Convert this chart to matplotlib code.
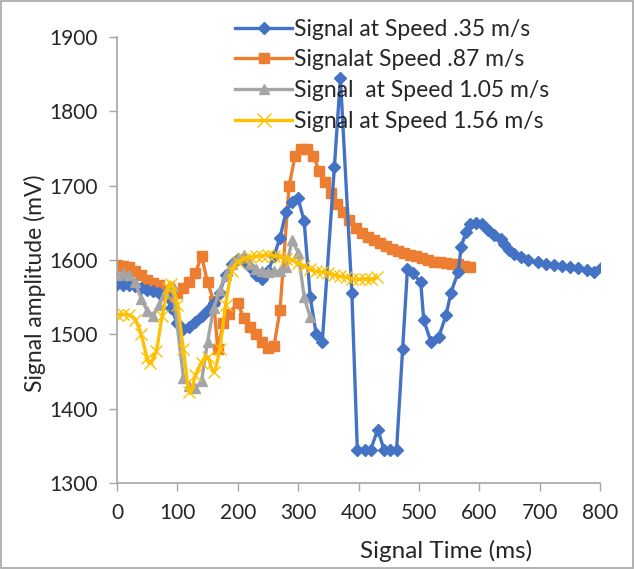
import matplotlib
matplotlib.use("Agg")
import matplotlib.pyplot as plt
import numpy as np
from matplotlib.path import Path
from matplotlib.patches import PathPatch, Rectangle
from matplotlib.lines import Line2D

plt.rcParams['font.family'] = ['Lato', 'DejaVu Sans']

# Signal at Speed .35 m/s
t_035 = [0, 10, 20, 30, 40, 50, 60, 70, 80, 90, 100, 110, 120, 130, 140, 150, 160, 170,
         180, 190, 200, 210, 220, 230, 240, 250, 260, 270, 280, 290, 300, 310, 320, 330,
         340, 360, 370, 389, 398, 410, 420, 432, 442, 452, 463, 473, 481, 490, 503, 508,
         520, 533, 545, 553, 565, 570, 578, 585, 595, 605, 614, 625, 636, 641, 650, 658,
         669, 680, 697, 710, 724, 737, 750, 763, 778, 790, 803]
v_035 = [1568, 1567, 1566, 1565, 1562, 1560, 1558, 1556, 1553, 1535, 1515, 1507, 1510, 1516,
         1525, 1533, 1542, 1556, 1580, 1595, 1602, 1600, 1590, 1580, 1574, 1585, 1605, 1630,
         1665, 1678, 1683, 1652, 1550, 1500, 1490, 1725, 1845, 1555, 1345, 1345, 1345, 1372,
         1345, 1345, 1345, 1480, 1588, 1582, 1570, 1519, 1490, 1497, 1526, 1556, 1584, 1618,
         1638, 1648, 1650, 1648, 1640, 1634, 1628, 1622, 1613, 1608, 1604, 1600, 1597, 1595,
         1593, 1592, 1591, 1589, 1587, 1584, 1591]

# Signal at Speed .87 m/s
t_087 = [0, 10, 20, 30, 40, 50, 60, 70, 80, 90, 100, 110, 120, 130, 140, 150, 160, 167,
         176, 185, 200, 210, 220, 230, 240, 250, 260, 270, 285, 295, 305, 315, 325, 335,
         345, 355, 365, 375, 385, 395, 405, 415, 425, 435, 445, 455, 465, 475, 485, 495,
         505, 515, 525, 535, 545, 555, 565, 575, 585]
v_087 = [1593, 1592, 1590, 1585, 1580, 1573, 1569, 1566, 1560, 1552, 1555, 1562, 1570, 1582,
         1606, 1570, 1545, 1480, 1515, 1528, 1542, 1522, 1510, 1500, 1490, 1482, 1484, 1533,
         1700, 1740, 1750, 1750, 1740, 1720, 1705, 1690, 1675, 1664, 1654, 1643, 1636, 1631,
         1627, 1623, 1619, 1615, 1612, 1609, 1607, 1605, 1603, 1600, 1598, 1597, 1596, 1595,
         1594, 1592, 1590]

# Signal at Speed 1.05 m/s
t_105 = [0, 10, 20, 30, 40, 50, 60, 70, 80, 92, 110, 120, 130, 140, 150, 160, 170, 180,
         190, 200, 210, 220, 230, 240, 250, 260, 270, 280, 290, 300, 310, 320]
v_105 = [1580, 1582, 1580, 1570, 1548, 1532, 1525, 1540, 1556, 1565, 1442, 1430, 1428, 1437,
         1490, 1535, 1560, 1580, 1595, 1603, 1607, 1595, 1588, 1585, 1584, 1585, 1585, 1590,
         1627, 1610, 1550, 1523]

# Signal at Speed 1.56 m/s
t_156 = [0, 10, 20, 30, 40, 50, 55, 65, 75, 85, 90, 100, 110, 120, 130, 140, 150, 160,
         170, 180, 190, 200, 210, 220, 230, 240, 250, 260, 270, 280, 290, 300, 310, 320,
         330, 340, 350, 360, 370, 380, 390, 400, 410, 420, 430]
v_156 = [1526, 1527, 1526, 1520, 1500, 1468, 1462, 1478, 1525, 1563, 1568, 1540, 1480, 1422,
         1445, 1462, 1470, 1450, 1480, 1540, 1585, 1597, 1602, 1604, 1605, 1606, 1607, 1606,
         1604, 1602, 1600, 1596, 1592, 1588, 1585, 1584, 1583, 1580, 1578, 1577, 1575, 1574,
         1575, 1574, 1577]

labels = ['Signal at Speed .35 m/s', 'Signalat Speed .87 m/s',
          'Signal  at Speed 1.05 m/s', 'Signal at Speed 1.56 m/s']


def smooth_path(x, y, tension=6.0):
    # catmull-rom style bezier, like excel's "smoothed line"
    x = np.asarray(x, float)
    y = np.asarray(y, float)
    verts = [(x[0], y[0])]
    codes = [Path.MOVETO]
    n = len(x)
    for i in range(n - 1):
        i0 = max(i - 1, 0)
        i3 = min(i + 2, n - 1)
        c1 = (x[i] + (x[i + 1] - x[i0]) / tension, y[i] + (y[i + 1] - y[i0]) / tension)
        c2 = (x[i + 1] - (x[i3] - x[i]) / tension, y[i + 1] - (y[i3] - y[i]) / tension)
        verts += [c1, c2, (x[i + 1], y[i + 1])]
        codes += [Path.CURVE4] * 3
    return Path(verts, codes)


fig = plt.figure(figsize=(6.34, 5.69), dpi=100)
ax = fig.add_axes([0.1845, 0.151, 0.762, 0.784])

c_blue, c_orange, c_gray, c_yellow = '#4472C4', '#ED7D31', '#A5A5A5', '#FFC000'
lw = 2.4

ax.plot(t_035, v_035, c=c_blue, lw=lw, marker='D', ms=6.5, zorder=3)
ax.plot(t_087, v_087, c=c_orange, lw=lw, marker='s', ms=7.5, zorder=2)
ax.plot(t_105, v_105, c=c_gray, lw=lw, marker='^', ms=7.5, zorder=4)
ax.add_patch(PathPatch(smooth_path(t_156, v_156), fc='none', ec=c_yellow, lw=lw, zorder=5))
ax.plot(t_156, v_156, ls='none', c=c_yellow, marker='x', ms=9, mew=1.0, zorder=5)

ax.set_xlim(0, 800)
ax.set_ylim(1300, 1900)
ax.set_xticks(range(0, 801, 100))
ax.set_yticks(range(1300, 1901, 100))
ax.tick_params(axis='both', labelsize=15, labelcolor='#262626', length=6, width=1,
               pad=8, color='#A6A6A6')
for s in ['top', 'right']:
    ax.spines[s].set_visible(False)
for s in ['left', 'bottom']:
    ax.spines[s].set_color('#A6A6A6')
    ax.spines[s].set_linewidth(1.2)

fig.text(0.703, 0.032, 'Signal Time (ms)', fontsize=17.5, color='#262626', ha='center', va='center')
fig.text(0.055, 0.503, 'Signal amplitude (mV)', fontsize=16.5, color='#262626',
         ha='center', va='center', rotation=90)

handles = [
    Line2D([], [], c=c_blue, lw=lw, marker='D', ms=6),
    Line2D([], [], c=c_orange, lw=lw, marker='s', ms=7),
    Line2D([], [], c=c_gray, lw=lw, marker='^', ms=7),
    Line2D([], [], c=c_yellow, lw=lw, marker='x', ms=10, mew=1.0),
]
leg = ax.legend(handles, labels, loc='upper left', bbox_to_anchor=(0.356, 0.983),
                bbox_transform=fig.transFigure, frameon=False, fontsize=16.5,
                handlelength=2.5, handletextpad=0.1, labelspacing=0.42, borderaxespad=0)
for txt in leg.get_texts():
    txt.set_color('#262626')
leg.set_zorder(10)

fig.patches.append(Rectangle((0.002, 0.002), 0.996, 0.996, transform=fig.transFigure,
                             fill=False, ec='#A6A6A6', lw=1.2))

fig.savefig('out.png', dpi=100)
